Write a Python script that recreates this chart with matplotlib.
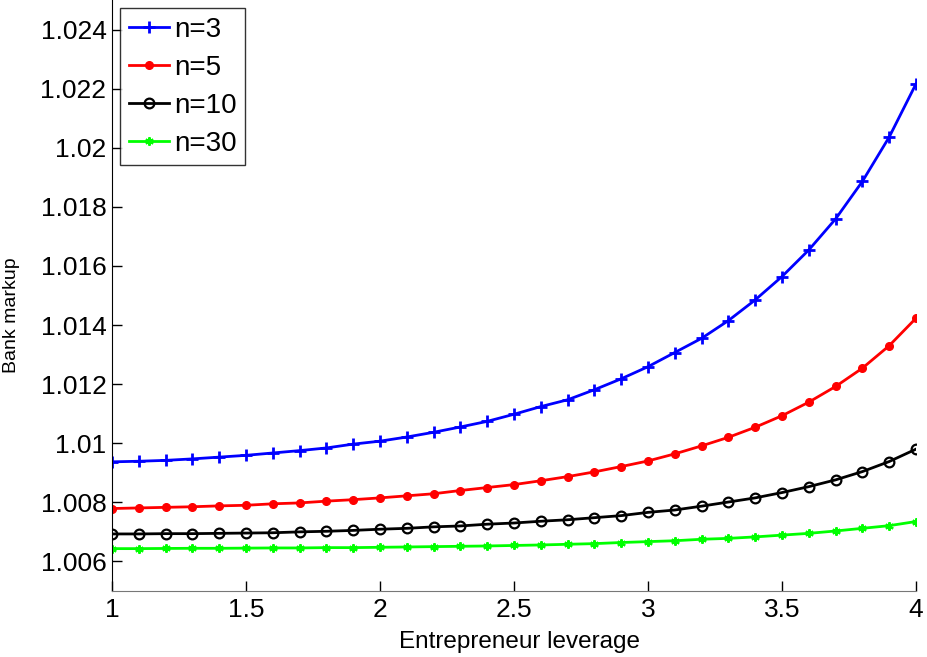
import numpy as np
import matplotlib
matplotlib.use("Agg")
import matplotlib.pyplot as plt

plt.rcParams['font.family'] = ['Liberation Sans', 'DejaVu Sans']

# entrepreneur leverage grid
leverage = np.round(np.arange(1.0, 4.0001, 0.1), 1)

# bank markup
markup_n3 = [1.00937, 1.00939, 1.00942, 1.00947, 1.00953, 1.00959, 1.00967, 1.00975,
             1.00984, 1.00997, 1.01007, 1.01021, 1.01037, 1.01055, 1.01074, 1.01098,
             1.01124, 1.01147, 1.01181, 1.01218, 1.01259, 1.01307, 1.01355, 1.01415,
             1.01485, 1.01564, 1.01654, 1.01759, 1.01886, 1.02036, 1.02216]
markup_n5 = [1.00779, 1.00781, 1.00783, 1.00785, 1.00788, 1.00790, 1.00795, 1.00798,
             1.00804, 1.00809, 1.00815, 1.00822, 1.00829, 1.00840, 1.00850, 1.00860,
             1.00873, 1.00887, 1.00903, 1.00921, 1.00940, 1.00964, 1.00991, 1.01020,
             1.01054, 1.01093, 1.01139, 1.01192, 1.01254, 1.01330, 1.01423]
markup_n10 = [1.00693, 1.00693, 1.00694, 1.00694, 1.00695, 1.00696, 1.00697, 1.00700,
              1.00702, 1.00705, 1.00709, 1.00712, 1.00717, 1.00720, 1.00726, 1.00730,
              1.00736, 1.00741, 1.00748, 1.00755, 1.00766, 1.00774, 1.00787, 1.00801,
              1.00815, 1.00833, 1.00853, 1.00876, 1.00904, 1.00938, 1.00980]
markup_n30 = [1.006433, 1.006433, 1.006439, 1.006444, 1.006444, 1.006450, 1.006456, 1.006456,
              1.006467, 1.006467, 1.006478, 1.006489, 1.006501, 1.006512, 1.006523, 1.006540,
              1.006557, 1.006580, 1.006602, 1.00664, 1.00667, 1.00670, 1.00675, 1.00678,
              1.00683, 1.00689, 1.00695, 1.00703, 1.00712, 1.00721, 1.00735]

fig = plt.figure(figsize=(9.27, 6.57), dpi=100)
ax = fig.add_axes([0.1208, 0.1005, 0.8673, 0.8995])

ax.plot(leverage, markup_n3, color='#0000ff', lw=2, marker='+', ms=8, mew=2, label='n=3')
ax.plot(leverage, markup_n5, color='#ff0000', lw=2, marker='.', ms=11, label='n=5')
ax.plot(leverage, markup_n10, color='black', lw=2, marker='o', ms=7, mew=1.6,
        mfc='none', label='n=10')
ax.plot(leverage, markup_n30, color='#00ff00', lw=2, marker=(6, 2, 0), ms=6, mew=1.5,
        label='n=30')

ax.set_xlim(1, 4)
ax.set_ylim(1.005, 1.025)
ax.set_xticks([1, 1.5, 2, 2.5, 3, 3.5, 4])
ax.set_xticklabels(['1', '1.5', '2', '2.5', '3', '3.5', '4'])
ax.set_yticks(np.arange(1.006, 1.0241, 0.002))
ax.set_yticklabels(['1.006', '1.008', '1.01', '1.012', '1.014', '1.016', '1.018',
                    '1.02', '1.022', '1.024'])
ax.tick_params(direction='in', length=7, width=1, labelsize=19)
ax.tick_params(axis='y', pad=4)
ax.tick_params(axis='x', pad=5)

ax.spines['top'].set_visible(False)
ax.spines['right'].set_visible(False)
ax.spines['bottom'].set_color('#777777')
ax.spines['left'].set_color('black')

ax.set_xlabel('Entrepreneur leverage', fontsize=17.5)
ax.xaxis.set_label_coords(0.507, -0.068)
ax.set_ylabel('Bank markup', fontsize=14)
ax.yaxis.set_label_coords(-0.114, 0.467)

leg = ax.legend(loc='upper left', fontsize=20, frameon=True, fancybox=False,
                borderpad=0.3, labelspacing=0.43, handlelength=1.45, handletextpad=0.2,
                borderaxespad=0.3)
leg.get_frame().set_edgecolor('black')
leg.get_frame().set_linewidth(1)

fig.savefig('out.png', dpi=100)
